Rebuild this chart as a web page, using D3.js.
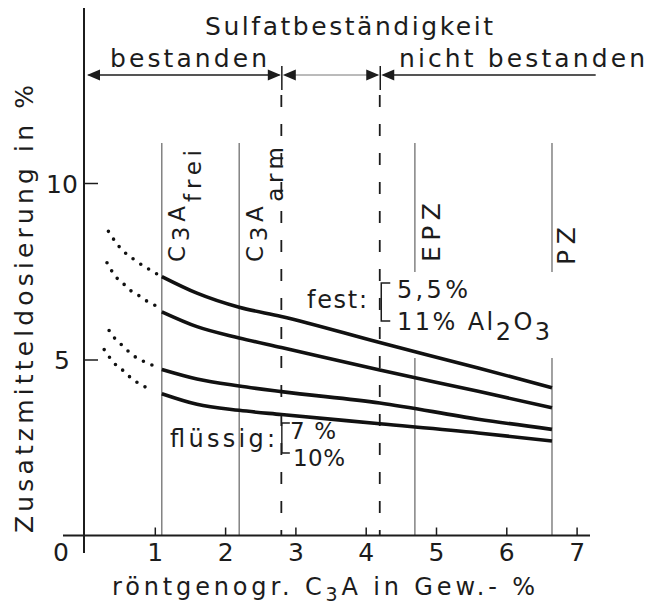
<!DOCTYPE html>
<html><head><meta charset="utf-8">
<script src="https://cdn.jsdelivr.net/npm/d3@7"></script>
<style>body{margin:0;background:#fff}svg{display:block}</style>
</head><body><svg id="c" width="649" height="608"></svg>
<script>
// ---- data ----
const xTicks = [1, 2, 3, 4, 5, 6, 7];
const yTicks = [5, 10];
const xSolid = [1.1, 1.6, 2.2, 2.8, 4.2, 5.6, 6.65];
const fest55 = [7.35, 6.88, 6.48, 6.22, 5.48, 4.76, 4.2];
const fest11 = [6.35, 5.93, 5.61, 5.34, 4.7, 4.1, 3.63];
const fl7 = [4.72, 4.45, 4.25, 4.09, 3.77, 3.31, 3.02];
const fl10 = [4.03, 3.73, 3.56, 3.44, 3.18, 2.92, 2.69];
const xDot1 = [0.34, 0.50, 0.72, 0.93, 1.05];
const dot1 = [8.63, 8.18, 7.81, 7.54, 7.40];
const xDot2 = [0.32, 0.39, 0.46, 0.58, 0.67, 0.79, 0.89, 1.03];
const dot2 = [7.74, 7.50, 7.31, 7.10, 6.93, 6.79, 6.65, 6.51];
const xDot3 = [0.35, 0.43, 0.53, 0.62, 0.74, 0.86, 1.0];
const dot3 = [5.82, 5.60, 5.41, 5.24, 5.05, 4.93, 4.81];
const xDot4 = [0.28, 0.36, 0.45, 0.56, 0.67, 0.80, 0.94];
const dot4 = [5.28, 5.05, 4.84, 4.67, 4.46, 4.29, 4.15];
const refLines = [1.1, 2.2, 4.7, 6.65];
const dashLines = [2.8, 4.2];
const zones = [0, 2.8, 4.2, 7.3];

// ---- setup ----
const svg = d3.select('#c');
const FONT = "'DejaVu Sans', sans-serif";
const INK = '#1c1c1c';
const x = d3.scaleLinear().domain([0, 7]).range([84.5, 576.6]);
const y = d3.scaleLinear().domain([0, 10]).range([536, 183]);
const Y0 = y(0) - 0.5;

function txt(g, w) {
  return g.attr('font-family', FONT).attr('fill', INK)
          .attr('textLength', w).attr('lengthAdjust', 'spacing');
}

// reference vertical lines
svg.append('g').selectAll('line').data(refLines).join('line')
  .attr('x1', d => x(d)).attr('x2', d => x(d))
  .attr('y1', 143).attr('y2', Y0)
  .attr('stroke', '#555').attr('stroke-width', 1.1);

// dashed lines
svg.append('g').selectAll('line').data(dashLines).join('line')
  .attr('x1', d => x(d)).attr('x2', d => x(d))
  .attr('y1', 95).attr('y2', Y0)
  .attr('stroke', INK).attr('stroke-width', 1.8)
  .attr('stroke-dasharray', '12 17');

// axes
svg.append('line').attr('x1', x(0) - 0.5).attr('x2', x(0) - 0.5)
  .attr('y1', 8).attr('y2', 553).attr('stroke', INK).attr('stroke-width', 2);
svg.append('line').attr('x1', 63).attr('x2', 590)
  .attr('y1', Y0).attr('y2', Y0).attr('stroke', INK).attr('stroke-width', 2);

const gx = svg.append('g').attr('transform', `translate(0,${Y0})`)
  .call(d3.axisBottom(x).tickValues(xTicks).tickSize(-8).tickFormat(d3.format('d')));
gx.select('.domain').remove();
gx.selectAll('line').attr('stroke', INK).attr('stroke-width', 1.5);
gx.selectAll('text').attr('y', 25).attr('dy', 0).attr('font-size', 25)
  .attr('font-family', FONT).attr('fill', INK);

const gy = svg.append('g').attr('transform', `translate(${x(0) - 0.5},0)`)
  .call(d3.axisRight(y).tickValues(yTicks).tickSize(14).tickFormat(d3.format('d')));
gy.select('.domain').remove();
gy.selectAll('line').attr('stroke', INK).attr('stroke-width', 1.5);
gy.selectAll('text').attr('x', -22).attr('text-anchor', 'middle').attr('dy', '0.36em')
  .attr('font-size', 25).attr('font-family', FONT).attr('fill', INK);

svg.append('text').attr('x', 61).attr('y', 561).attr('text-anchor', 'middle')
  .attr('font-size', 25).attr('font-family', FONT).attr('fill', INK).text('0');

// axis titles
const xt = svg.append('text').attr('x', 112).attr('y', 595).attr('font-size', 24);
txt(xt, 423);
xt.append('tspan').text('röntgenogr. C');
xt.append('tspan').attr('dy', 6).attr('font-size', 19).text('3');
xt.append('tspan').attr('dy', -6).text('A in Gew.- %');

const yt = svg.append('text').attr('transform', 'translate(33,533) rotate(-90)')
  .attr('font-size', 25).text('Zusatzmitteldosierung in %');
txt(yt, 448);

// header
txt(svg.append('text').attr('x', 205).attr('y', 35).attr('font-size', 25)
  .text('Sulfatbeständigkeit'), 288);
txt(svg.append('text').attr('x', 110).attr('y', 67).attr('font-size', 25)
  .text('bestanden'), 157);
txt(svg.append('text').attr('x', 399).attr('y', 67).attr('font-size', 25)
  .text('nicht bestanden'), 246);

const AY = 75;
const hdr = svg.append('g');
const zs = d3.pairs(zones);
hdr.selectAll('line.z').data(zs).join('line').attr('class', 'z')
  .attr('x1', d => x(d[0]) + 4).attr('x2', d => x(d[1]) - 2)
  .attr('y1', AY).attr('y2', AY)
  .attr('stroke', (d, i) => i === 1 ? '#777' : INK)
  .attr('stroke-width', (d, i) => i === 1 ? 1 : 1.5);
const arrows = [];
zones.forEach((z, i) => {
  if (i > 0 && i < zones.length - 1) arrows.push({ t: z, dir: 1 });
  if (i < zones.length - 1) arrows.push({ t: z, dir: -1 });
});
hdr.selectAll('path.a').data(arrows).join('path').attr('class', 'a')
  .attr('d', d => {
    const tx = x(d.t) + (d.dir < 0 ? (d.t === 0 ? 2.5 : 1.5) : -0.5);
    const bx = tx - d.dir * 13;
    return `M${tx},${AY}L${bx},${AY - 5.5}L${bx},${AY + 5.5}Z`;
  }).attr('fill', INK);
hdr.selectAll('line.t').data(dashLines).join('line').attr('class', 't')
  .attr('x1', d => x(d) + 0.5).attr('x2', d => x(d) + 0.5)
  .attr('y1', 66).attr('y2', 90).attr('stroke', INK).attr('stroke-width', 1.5);

// rotated vertical-line labels
function rot(bx, sy, w, size) {
  const t = svg.append('text').attr('transform', `translate(${bx},${sy}) rotate(-90)`)
    .attr('font-size', size);
  txt(t, w);
  return t;
}
let t1 = rot(185, 262, 112, 23);
t1.append('tspan').text('C');
t1.append('tspan').attr('dy', 4).text('3');
t1.append('tspan').attr('dy', -4).text('A');
t1.append('tspan').attr('dy', 16).text('frei');
let t2 = rot(263, 262, 115, 23);
t2.append('tspan').text('C');
t2.append('tspan').attr('dy', 4).text('3');
t2.append('tspan').attr('dy', -4).text('A');
t2.append('tspan').attr('dy', 20).text('arm');
rot(440, 262, 59, 25).text('EPZ');
rot(575, 265, 38, 25).text('PZ');

// fest labels (with white knockout)
const fest = svg.append('g');
txt(fest.append('text').attr('x', 307).attr('y', 308).attr('font-size', 24).text('fest:'), 60);
const fa = fest.append('text').attr('x', 397).attr('y', 298).attr('font-size', 24).text('5,5%');
txt(fa, 71);
const fb = fest.append('text').attr('x', 397).attr('y', 330).attr('font-size', 24);
txt(fb, 153);
fb.append('tspan').text('11% Al');
fb.append('tspan').attr('dy', 10).text('2');
fb.append('tspan').attr('dy', -10).text('O');
fb.append('tspan').attr('dy', 10).text('3');
const bb1 = fa.node().getBBox(), bb2 = fb.node().getBBox();
const kx0 = Math.min(bb1.x, bb2.x) + 10, kx1 = Math.max(bb1.x + bb1.width, bb2.x + bb2.width) + 6;
fest.insert('rect', ':first-child').attr('x', kx0).attr('y', bb1.y - 4)
  .attr('width', kx1 - kx0).attr('height', bb2.y + bb2.height - bb1.y + 16).attr('fill', '#fff');
const bxF = x(4.2) + 1.5;
fest.append('path').attr('d', `M${bxF + 9},283H${bxF}V321H${bxF + 9}`)
  .attr('fill', 'none').attr('stroke', INK).attr('stroke-width', 1.5);

// fluessig labels
const fl = svg.append('g');
txt(fl.append('text').attr('x', 170).attr('y', 447).attr('font-size', 24).text('flüssig:'), 105);
txt(fl.append('text').attr('x', 290).attr('y', 439).attr('font-size', 23).text('7%'), 46);
txt(fl.append('text').attr('x', 293).attr('y', 466).attr('font-size', 23).text('10%'), 52);
const bxL = x(2.8) + 0.5;
fl.append('path').attr('d', `M${bxL + 8},423H${bxL}V453H${bxL + 8}`)
  .attr('fill', 'none').attr('stroke', INK).attr('stroke-width', 1.4);

// curves
const line = d3.line().x(d => x(d[0])).y(d => y(d[1])).curve(d3.curveMonotoneX);
const solids = [fest55, fest11, fl7, fl10];
svg.append('g').selectAll('path').data(solids).join('path')
  .attr('d', s => line(xSolid.map((v, i) => [v, s[i]])))
  .attr('fill', 'none').attr('stroke', '#111').attr('stroke-width', 3.6)
  .attr('stroke-linecap', 'butt');

const dots = [[xDot1, dot1], [xDot2, dot2], [xDot3, dot3], [xDot4, dot4]];
svg.append('g').selectAll('path').data(dots).join('path')
  .attr('d', d => line(d[0].map((v, i) => [v, d[1][i]])))
  .attr('fill', 'none').attr('stroke', '#111').attr('stroke-width', 3.6)
  .attr('stroke-linecap', 'round').attr('stroke-dasharray', '0 9.3');
</script></body></html>
